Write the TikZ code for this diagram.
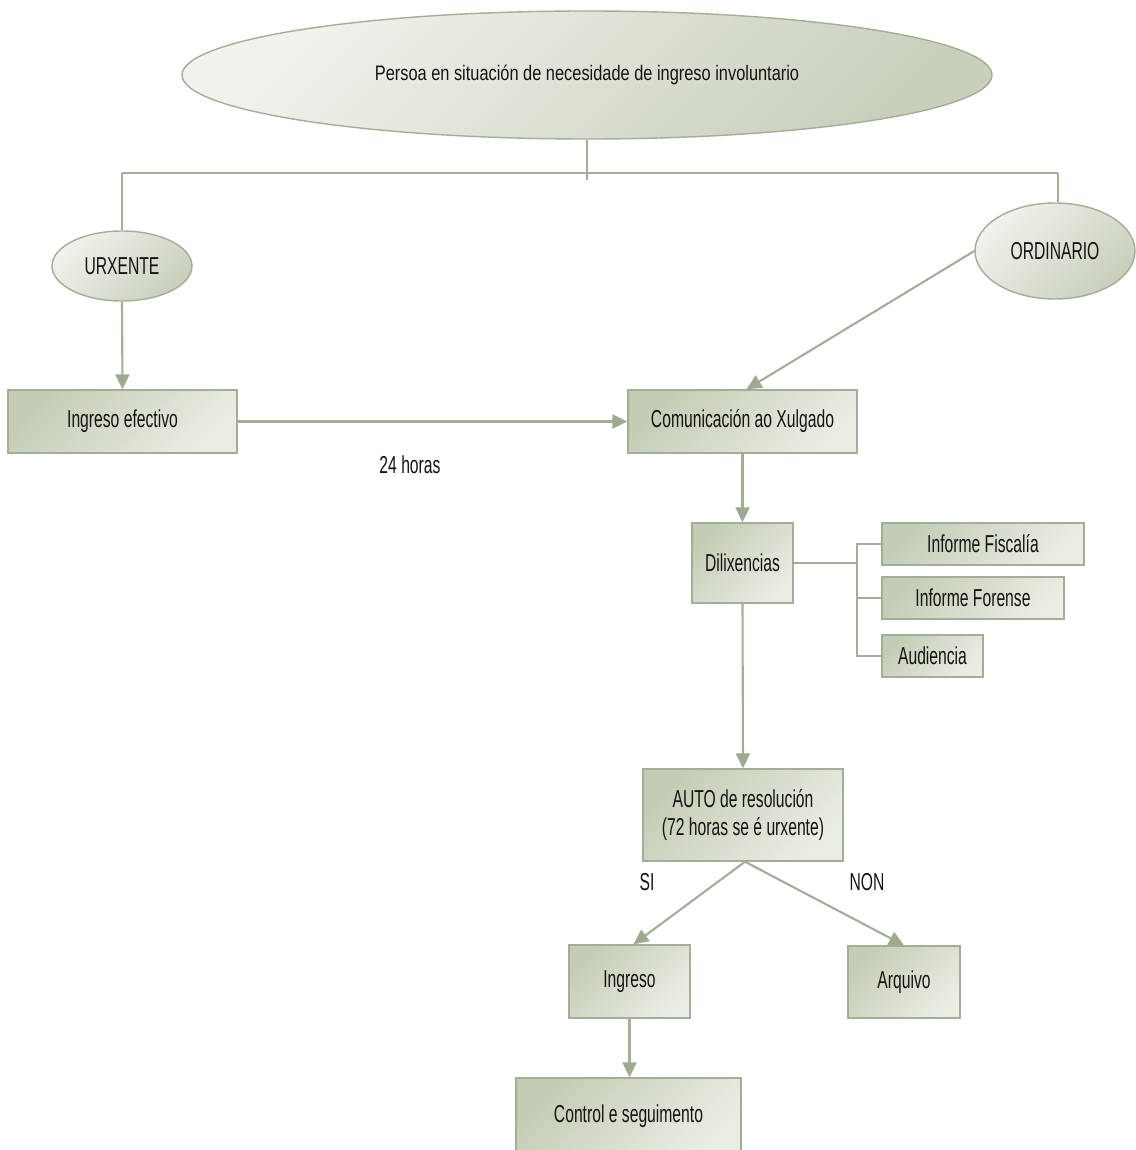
\documentclass[tikz,border=0pt]{standalone}
\usepackage{fontspec}
\setmainfont{Liberation Sans}[FakeStretch=0.64]
\newfontfamily\topfont{Liberation Sans}[FakeStretch=0.78]
\usetikzlibrary{shapes.geometric,arrows.meta}
\definecolor{boxdark}{HTML}{C3CDB5}
\definecolor{boxlight}{HTML}{EAEDE4}
\definecolor{elllight}{HTML}{F0F2EC}
\definecolor{elldark}{HTML}{C8D0BC}
\definecolor{edge}{HTML}{A3AD97}
\definecolor{conn}{HTML}{A3AD98}
\definecolor{tipc}{HTML}{9DAA8F}
\definecolor{ink}{HTML}{141414}
\begin{document}
\begin{tikzpicture}[x=1pt,y=-1pt,
  every node/.style={text=ink, font=\fontsize{24.5}{28}\selectfont},
  boxnode/.style={rectangle, draw=edge, line width=1.4pt, top color=boxdark, bottom color=boxlight, shading angle=45, inner sep=0pt, align=center},
  ellnode/.style={ellipse, draw=edge, line width=1.4pt, top color=elllight, bottom color=elldark, shading angle=45, inner sep=0pt},
  link/.style={draw=conn, line width=2.1pt},
  arrowlink/.style={link, -{Triangle[length=15pt,width=14pt,fill=tipc,color=tipc]}},
  lbl/.style={font=\fontsize{24.5}{28}\selectfont}]
\fill[white] (0,0) rectangle (1135,1150);
\useasboundingbox (0,0) rectangle (1135,1150);

% nodes
\node[ellnode, minimum width=810, minimum height=128, font=\topfont\fontsize{21}{25}\selectfont] (top) at (587,75) {Persoa en situación de necesidade de ingreso involuntario};
\node[ellnode, minimum width=140, minimum height=70] (urx) at (122,266) {URXENTE};
\node[ellnode, minimum width=160, minimum height=96] (ord) at (1055,251) {ORDINARIO};
\node[boxnode, minimum width=229, minimum height=63] (ing) at (122.5,421.5) {Ingreso efectivo};
\node[boxnode, minimum width=229, minimum height=63] (com) at (742.5,421.5) {Comunicación ao Xulgado};
\node[boxnode, minimum width=101, minimum height=80] (dil) at (742.5,563) {Dilixencias};
\node[boxnode, minimum width=202, minimum height=42] (fis) at (983,544) {Informe Fiscalía};
\node[boxnode, minimum width=182, minimum height=42] (for) at (973,598) {Informe Forense};
\node[boxnode, minimum width=101, minimum height=42] (aud) at (932.5,656) {Audiencia};
\node[boxnode, minimum width=200, minimum height=92] (auto) at (743,815) {AUTO de resolución\\(72 horas se é urxente)};
\node[boxnode, minimum width=121, minimum height=73] (ingr) at (629.5,981.5) {Ingreso};
\node[boxnode, minimum width=112, minimum height=72] (arq) at (904,982) {Arquivo};
\node[boxnode, minimum width=225, minimum height=76] (ctrl) at (628.5,1116) {Control e seguimento};

% labels
\node[lbl] (h24) at (410,465) {24 horas};
\node[lbl] (si) at (647,882) {SI};
\node[lbl] (non) at (867,882) {NON};

% coordinates
\coordinate (busT) at (587,180);
\coordinate (busL) at (122,173);
\coordinate (busR) at (1058,173);
\coordinate (j) at (857,563);

% connectors
\draw[link] (top.south) -- (busT);
\draw[link] (busL) -- (busR);
\draw[link] (busL) -- (urx.north);
\draw[link] (busR) -- (ord.north -| busR);
\draw[arrowlink] (urx.south) -- (ing.north);
\draw[arrowlink] (ord.west) -- ([xshift=4]com.north);
\draw[arrowlink] (ing.east) -- (com.west);
\draw[arrowlink] (com.south) -- (dil.north);
\draw[link] (dil.east) -- (j);
\draw[link] (fis.west) -| (j);
\draw[link] (aud.west) -| (j);
\draw[link] (for.west) -- (for.west -| j);
\draw[arrowlink] (dil.south) -- (auto.north);
\draw[arrowlink] ([xshift=2]auto.south) -- ([xshift=4]ingr.north);
\draw[arrowlink] ([xshift=2]auto.south) -- (arq.north);
\draw[arrowlink] (ingr.south) -- (ctrl.north -| ingr.south);
\end{tikzpicture}
\end{document}
